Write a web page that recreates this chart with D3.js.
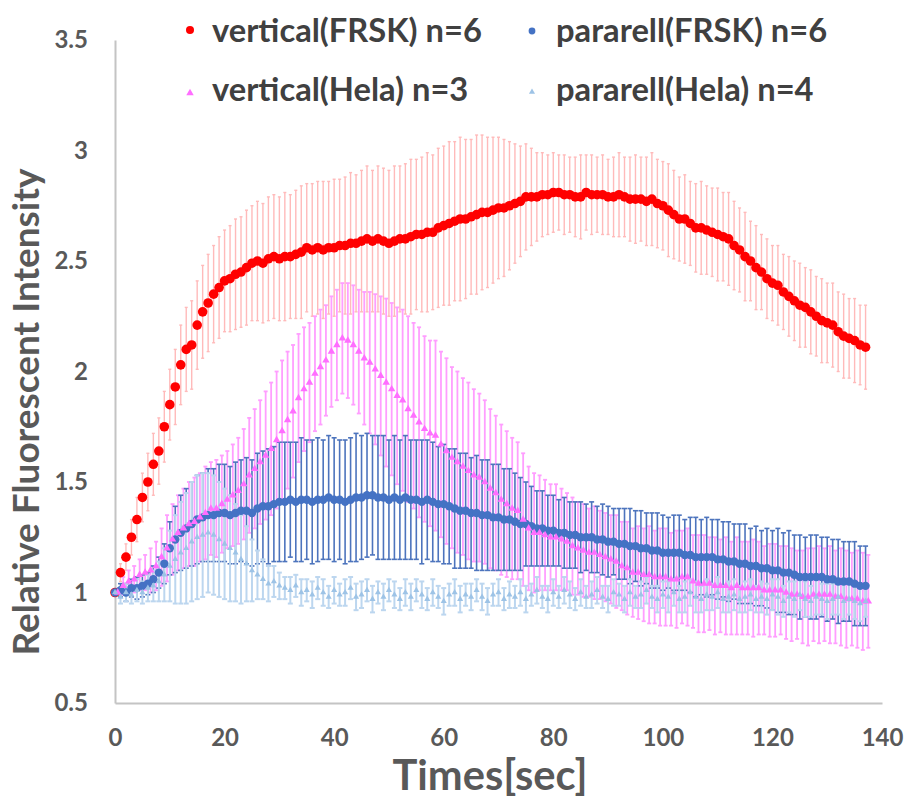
<!DOCTYPE html>
<html>
<head>
<meta charset="utf-8">
<script src="https://cdn.jsdelivr.net/npm/d3@7"></script>
<style>
  body { margin: 0; background: #fff; }
  svg { display: block; }
  text { font-family: Lato, "Open Sans", sans-serif; font-weight: 700; }
</style>
</head>
<body>
<svg id="chart" width="906" height="798"></svg>
<script>
// sampling times in seconds, one frame per second (vertical Hela frames fall half a second later)
const TIMES = d3.range(0, 138);
const TIMES_VERT_HELA = d3.range(0.5, 138.5);

const X_TICKS = [0, 20, 40, 60, 80, 100, 120, 140];
const Y_TICKS = [0.5, 1, 1.5, 2, 2.5, 3, 3.5];

const SERIES_NAMES = ["vertical(FRSK) n=6", "pararell(FRSK) n=6", "vertical(Hela) n=3", "pararell(Hela) n=4"];

const vertFrskMean = [
  1.00, 1.09, 1.16, 1.25, 1.33, 1.43, 1.50, 1.58, 1.64, 1.75,
  1.85, 1.93, 2.03, 2.10, 2.12, 2.21, 2.27, 2.31, 2.35, 2.38,
  2.41, 2.42, 2.44, 2.45, 2.47, 2.49, 2.50, 2.49, 2.51, 2.52,
  2.51, 2.52, 2.52, 2.53, 2.54, 2.56, 2.55, 2.56, 2.55, 2.56,
  2.56, 2.57, 2.57, 2.58, 2.58, 2.59, 2.60, 2.59, 2.60, 2.59,
  2.58, 2.59, 2.60, 2.60, 2.61, 2.62, 2.62, 2.63, 2.63, 2.65,
  2.66, 2.67, 2.68, 2.69, 2.69, 2.70, 2.71, 2.72, 2.72, 2.73,
  2.74, 2.74, 2.75, 2.76, 2.77, 2.79, 2.79, 2.79, 2.80, 2.80,
  2.81, 2.81, 2.80, 2.80, 2.79, 2.79, 2.81, 2.80, 2.80, 2.80,
  2.79, 2.79, 2.80, 2.79, 2.78, 2.78, 2.78, 2.77, 2.78, 2.76,
  2.75, 2.73, 2.71, 2.69, 2.69, 2.67, 2.65, 2.65, 2.64, 2.63,
  2.62, 2.61, 2.60, 2.57, 2.55, 2.52, 2.50, 2.47, 2.45, 2.42,
  2.40, 2.39, 2.36, 2.34, 2.32, 2.30, 2.29, 2.27, 2.25, 2.23,
  2.22, 2.21, 2.18, 2.16, 2.15, 2.14, 2.12, 2.11
];
const vertFrskErr = [
  0.00, 0.04, 0.06, 0.08, 0.10, 0.11, 0.13, 0.14, 0.15, 0.16,
  0.16, 0.17, 0.18, 0.19, 0.20, 0.20, 0.21, 0.22, 0.22, 0.23,
  0.23, 0.24, 0.25, 0.25, 0.26, 0.26, 0.27, 0.27, 0.28, 0.28,
  0.28, 0.29, 0.28, 0.29, 0.30, 0.29, 0.30, 0.30, 0.31, 0.30,
  0.31, 0.30, 0.31, 0.32, 0.31, 0.32, 0.33, 0.32, 0.33, 0.33,
  0.33, 0.34, 0.33, 0.34, 0.35, 0.34, 0.35, 0.36, 0.35, 0.36,
  0.36, 0.37, 0.36, 0.37, 0.36, 0.35, 0.36, 0.35, 0.34, 0.33,
  0.32, 0.31, 0.29, 0.27, 0.25, 0.24, 0.22, 0.20, 0.19, 0.18,
  0.18, 0.17, 0.18, 0.17, 0.18, 0.19, 0.17, 0.18, 0.17, 0.18,
  0.17, 0.18, 0.19, 0.18, 0.19, 0.20, 0.19, 0.20, 0.21, 0.20,
  0.20, 0.21, 0.20, 0.19, 0.20, 0.19, 0.20, 0.21, 0.20, 0.20,
  0.21, 0.20, 0.21, 0.20, 0.19, 0.20, 0.18, 0.19, 0.17, 0.18,
  0.17, 0.18, 0.17, 0.18, 0.18, 0.19, 0.18, 0.19, 0.18, 0.19,
  0.18, 0.19, 0.18, 0.19, 0.18, 0.19, 0.18, 0.19
];

const paraFrskMean = [
  1.00, 1.01, 1.00, 1.02, 1.02, 1.03, 1.04, 1.06, 1.09, 1.13,
  1.20, 1.24, 1.27, 1.29, 1.31, 1.33, 1.34, 1.35, 1.35, 1.36,
  1.36, 1.35, 1.36, 1.37, 1.37, 1.36, 1.38, 1.39, 1.39, 1.40,
  1.41, 1.41, 1.42, 1.41, 1.42, 1.42, 1.41, 1.42, 1.42, 1.43,
  1.42, 1.42, 1.41, 1.42, 1.43, 1.43, 1.44, 1.44, 1.43, 1.43,
  1.42, 1.43, 1.42, 1.43, 1.42, 1.42, 1.41, 1.42, 1.41, 1.40,
  1.40, 1.39, 1.38, 1.37, 1.37, 1.36, 1.36, 1.35, 1.35, 1.34,
  1.34, 1.33, 1.33, 1.32, 1.31, 1.31, 1.30, 1.29, 1.29, 1.28,
  1.28, 1.27, 1.27, 1.26, 1.26, 1.25, 1.25, 1.25, 1.24, 1.24,
  1.23, 1.23, 1.22, 1.22, 1.21, 1.21, 1.20, 1.20, 1.19, 1.19,
  1.18, 1.18, 1.18, 1.18, 1.17, 1.17, 1.16, 1.16, 1.16, 1.16,
  1.15, 1.15, 1.14, 1.14, 1.13, 1.13, 1.12, 1.12, 1.11, 1.11,
  1.10, 1.10, 1.09, 1.09, 1.08, 1.07, 1.07, 1.07, 1.07, 1.07,
  1.06, 1.06, 1.05, 1.05, 1.05, 1.04, 1.03, 1.03
];
const paraFrskErr = [
  0.00, 0.03, 0.04, 0.04, 0.05, 0.05, 0.05, 0.06, 0.07, 0.09,
  0.12, 0.15, 0.17, 0.18, 0.19, 0.20, 0.20, 0.21, 0.21, 0.22,
  0.22, 0.22, 0.23, 0.23, 0.24, 0.24, 0.25, 0.25, 0.26, 0.26,
  0.27, 0.27, 0.26, 0.27, 0.28, 0.27, 0.28, 0.28, 0.27, 0.28,
  0.28, 0.27, 0.28, 0.28, 0.29, 0.28, 0.28, 0.27, 0.28, 0.28,
  0.27, 0.28, 0.27, 0.28, 0.27, 0.27, 0.28, 0.27, 0.27, 0.26,
  0.27, 0.26, 0.27, 0.26, 0.26, 0.25, 0.26, 0.25, 0.25, 0.24,
  0.24, 0.23, 0.23, 0.22, 0.21, 0.19, 0.18, 0.17, 0.17, 0.16,
  0.16, 0.15, 0.16, 0.15, 0.15, 0.16, 0.15, 0.16, 0.15, 0.16,
  0.16, 0.15, 0.16, 0.16, 0.17, 0.16, 0.17, 0.16, 0.17, 0.17,
  0.17, 0.16, 0.17, 0.17, 0.16, 0.17, 0.18, 0.17, 0.18, 0.17,
  0.18, 0.17, 0.18, 0.17, 0.18, 0.18, 0.17, 0.18, 0.17, 0.18,
  0.18, 0.19, 0.18, 0.19, 0.18, 0.19, 0.18, 0.19, 0.19, 0.18,
  0.19, 0.18, 0.19, 0.18, 0.18, 0.19, 0.18, 0.18
];

const vertHelaMean = [
  1.00, 1.03, 1.05, 1.06, 1.08, 1.09, 1.10, 1.12, 1.16, 1.20,
  1.24, 1.27, 1.29, 1.31, 1.32, 1.34, 1.36, 1.38, 1.38, 1.40,
  1.42, 1.44, 1.46, 1.49, 1.53, 1.56, 1.59, 1.62, 1.65, 1.69,
  1.73, 1.78, 1.82, 1.88, 1.92, 1.95, 1.99, 2.02, 2.05, 2.09,
  2.12, 2.15, 2.14, 2.12, 2.09, 2.06, 2.04, 2.01, 1.98, 1.95,
  1.92, 1.89, 1.87, 1.83, 1.80, 1.77, 1.74, 1.72, 1.71, 1.67,
  1.64, 1.61, 1.59, 1.57, 1.55, 1.53, 1.52, 1.50, 1.47, 1.45,
  1.42, 1.40, 1.38, 1.37, 1.33, 1.29, 1.27, 1.27, 1.26, 1.25,
  1.25, 1.24, 1.23, 1.21, 1.20, 1.19, 1.18, 1.18, 1.17, 1.16,
  1.15, 1.14, 1.12, 1.11, 1.09, 1.09, 1.08, 1.08, 1.07, 1.07,
  1.07, 1.06, 1.06, 1.07, 1.07, 1.05, 1.04, 1.04, 1.04, 1.03,
  1.03, 1.03, 1.02, 1.03, 1.02, 1.02, 1.02, 1.02, 1.01, 1.01,
  1.01, 1.01, 1.00, 0.99, 0.99, 0.98, 0.98, 0.99, 0.99, 0.99,
  0.99, 0.98, 0.98, 0.97, 0.97, 0.97, 0.96, 0.96
];
const vertHelaErr = [
  0.00, 0.04, 0.05, 0.06, 0.07, 0.08, 0.10, 0.11, 0.13, 0.15,
  0.16, 0.17, 0.18, 0.19, 0.20, 0.20, 0.21, 0.21, 0.22, 0.22,
  0.22, 0.23, 0.24, 0.25, 0.26, 0.27, 0.28, 0.29, 0.30, 0.31,
  0.32, 0.31, 0.30, 0.29, 0.28, 0.27, 0.26, 0.26, 0.25, 0.25,
  0.25, 0.25, 0.26, 0.27, 0.28, 0.30, 0.32, 0.34, 0.36, 0.38,
  0.39, 0.40, 0.41, 0.42, 0.42, 0.43, 0.42, 0.42, 0.43, 0.42,
  0.42, 0.41, 0.41, 0.40, 0.40, 0.39, 0.38, 0.37, 0.36, 0.35,
  0.34, 0.33, 0.32, 0.31, 0.30, 0.28, 0.27, 0.26, 0.25, 0.24,
  0.24, 0.23, 0.22, 0.22, 0.21, 0.21, 0.20, 0.21, 0.20, 0.20,
  0.20, 0.21, 0.20, 0.21, 0.20, 0.21, 0.21, 0.22, 0.21, 0.22,
  0.22, 0.21, 0.22, 0.21, 0.22, 0.21, 0.22, 0.22, 0.21, 0.22,
  0.21, 0.22, 0.21, 0.22, 0.21, 0.21, 0.22, 0.21, 0.20, 0.21,
  0.21, 0.20, 0.21, 0.21, 0.20, 0.21, 0.22, 0.21, 0.22, 0.21,
  0.22, 0.21, 0.22, 0.22, 0.21, 0.22, 0.22, 0.21
];

const paraHelaMean = [
  1.00, 0.98, 1.00, 0.99, 1.01, 1.00, 1.02, 1.03, 1.05, 1.08,
  1.12, 1.15, 1.18, 1.20, 1.23, 1.25, 1.26, 1.27, 1.26, 1.24,
  1.22, 1.20, 1.18, 1.15, 1.13, 1.10, 1.08, 1.06, 1.04, 1.05,
  1.03, 1.02, 1.01, 1.03, 1.00, 1.01, 0.99, 1.02, 1.00, 0.98,
  1.01, 0.99, 1.00, 1.02, 0.98, 0.99, 1.01, 0.97, 1.00, 0.98,
  1.01, 0.99, 0.97, 1.00, 0.98, 1.01, 0.99, 0.97, 1.00, 0.98,
  0.96, 0.99, 1.00, 0.97, 0.99, 0.98, 1.01, 0.98, 0.96, 0.99,
  1.00, 0.97, 0.99, 0.98, 1.00, 0.97, 0.99, 1.01, 0.98, 0.97,
  1.00, 0.98, 1.01, 0.99, 0.97, 1.00, 0.98, 0.99, 1.01, 0.98,
  0.97, 1.00, 0.99, 0.97, 1.00, 0.98, 0.99, 1.01, 0.98, 0.97,
  0.99, 0.98, 1.00, 0.97, 0.98, 1.00, 0.98, 0.97, 0.99, 0.98,
  1.00, 0.97, 0.98, 0.99, 0.97, 0.98, 0.99, 0.97, 0.98, 0.97,
  0.99, 0.98, 0.96, 0.98, 0.97, 0.99, 0.97, 0.96, 0.98, 0.97,
  0.96, 0.97, 0.98, 0.96, 0.97, 0.96, 0.95, 0.96
];
const paraHelaErr = [
  0.00, 0.03, 0.04, 0.04, 0.05, 0.05, 0.06, 0.07, 0.09, 0.12,
  0.16, 0.20, 0.23, 0.25, 0.27, 0.28, 0.28, 0.27, 0.27, 0.26,
  0.25, 0.24, 0.22, 0.20, 0.17, 0.14, 0.11, 0.09, 0.08, 0.07,
  0.06, 0.05, 0.06, 0.05, 0.06, 0.05, 0.06, 0.05, 0.06, 0.05,
  0.06, 0.05, 0.06, 0.05, 0.06, 0.06, 0.05, 0.06, 0.05, 0.06,
  0.05, 0.06, 0.05, 0.06, 0.06, 0.05, 0.06, 0.05, 0.06, 0.05,
  0.06, 0.05, 0.06, 0.06, 0.05, 0.06, 0.05, 0.06, 0.06, 0.05,
  0.06, 0.05, 0.06, 0.05, 0.06, 0.06, 0.05, 0.06, 0.05, 0.06,
  0.06, 0.05, 0.06, 0.06, 0.05, 0.06, 0.05, 0.06, 0.06, 0.05,
  0.06, 0.06, 0.05, 0.06, 0.06, 0.05, 0.06, 0.06, 0.05, 0.06,
  0.06, 0.07, 0.06, 0.06, 0.07, 0.06, 0.07, 0.06, 0.07, 0.06,
  0.07, 0.06, 0.07, 0.07, 0.06, 0.07, 0.07, 0.06, 0.07, 0.07,
  0.07, 0.08, 0.07, 0.07, 0.08, 0.07, 0.08, 0.07, 0.08, 0.07,
  0.08, 0.07, 0.08, 0.08, 0.07, 0.08, 0.08, 0.07
];

const SERIES = [
  { name: SERIES_NAMES[0], times: TIMES, mean: vertFrskMean, err: vertFrskErr, color: "#ff0000", barColor: "#ffbaba", barWidth: 1.4, cap: 3, shape: "circle", size: 4.8 },
  { name: SERIES_NAMES[1], times: TIMES, mean: paraFrskMean, err: paraFrskErr, color: "#4472c4", barColor: "#4d74bd", barWidth: 1.6, cap: 5, shape: "circle", size: 4.2 },
  { name: SERIES_NAMES[2], times: TIMES_VERT_HELA, mean: vertHelaMean, err: vertHelaErr, color: "#ff6eff", barColor: "#ff9eff", barWidth: 1.8, cap: 4, shape: "triangle", size: 24 },
  { name: SERIES_NAMES[3], times: TIMES, mean: paraHelaMean, err: paraHelaErr, color: "#9dc3e6", barColor: "#bcd6ef", barWidth: 2, cap: 5, shape: "triangle", size: 16 },
];

const svg = d3.select("#chart");

const x = d3.scaleLinear().domain([0, 140]).range([115, 882]);
const y = d3.scaleLinear().domain([0.5, 3.5]).range([703, 40]);

// Axes
const yAxis = svg.append("g")
  .attr("transform", "translate(115,0)")
  .call(d3.axisLeft(y).tickValues(Y_TICKS).tickSize(0).tickSizeOuter(0).tickPadding(27).tickFormat(d3.format("")));
const xAxis = svg.append("g")
  .attr("transform", "translate(0,703)")
  .call(d3.axisBottom(x).tickValues(X_TICKS).tickSize(0).tickSizeOuter(0).tickPadding(26));

[xAxis, yAxis].forEach((ax) => {
  ax.select(".domain").attr("stroke", "#c4c4c4").attr("stroke-width", 2);
  ax.selectAll("text")
    .attr("fill", "#595959")
    .style("font-size", "24px")
    .style("font-family", "Lato, sans-serif")
    .style("font-weight", 700);
});

// Error bars: red, pink, blue, light blue
const barOrder = [0, 2, 1, 3];
barOrder.forEach((si) => {
  const s = SERIES[si];
  const g = svg.append("g").attr("stroke", s.barColor).attr("stroke-width", s.barWidth);
  s.times.forEach((t, i) => {
    if (s.err[i] <= 0) return;
    const px = x(t);
    const top = y(s.mean[i] + s.err[i]);
    const bot = y(s.mean[i] - s.err[i]);
    g.append("line").attr("x1", px).attr("x2", px).attr("y1", top).attr("y2", bot);
    g.append("line").attr("x1", px - s.cap / 2).attr("x2", px + s.cap / 2).attr("y1", top).attr("y2", top);
    g.append("line").attr("x1", px - s.cap / 2).attr("x2", px + s.cap / 2).attr("y1", bot).attr("y2", bot);
  });
});

// Markers
function drawMarkers(g, s, pts) {
  if (s.shape === "circle") {
    g.selectAll("circle")
      .data(pts)
      .join("circle")
      .attr("cx", (d) => d[0])
      .attr("cy", (d) => d[1])
      .attr("r", s.size)
      .attr("fill", s.color);
  } else {
    g.selectAll("path")
      .data(pts)
      .join("path")
      .attr("d", d3.symbol(d3.symbolTriangle).size(s.size))
      .attr("transform", (d) => `translate(${d[0]},${d[1]})`)
      .attr("fill", s.color);
  }
}

[0, 1, 2, 3].forEach((si) => {
  const s = SERIES[si];
  const pts = s.times.map((t, i) => [x(t), y(s.mean[i])]);
  drawMarkers(svg.append("g"), s, pts);
});

// Fit a text element to a target width by adjusting font size
function fitText(sel, width) {
  const w = sel.node().getComputedTextLength();
  const fs = parseFloat(sel.style("font-size"));
  sel.style("font-size", (fs * width / w).toFixed(2) + "px");
}

// Axis titles
const yTitle = svg.append("text")
  .attr("transform", "translate(39,412) rotate(-90)")
  .attr("text-anchor", "middle")
  .attr("fill", "#595959")
  .style("font-size", "30px")
  .text("Relative Fluorescent Intensity");
fitText(yTitle, 487);

const xTitle = svg.append("text")
  .attr("x", 490)
  .attr("y", 790)
  .attr("text-anchor", "middle")
  .attr("fill", "#595959")
  .style("font-size", "30px")
  .text("Times[sec]");
fitText(xTitle, 195);

// Legend
const legendPos = [
  { mx: 190, my: 30, tx: 212, ty: 42 },
  { mx: 532, my: 31, tx: 556, ty: 42 },
  { mx: 190, my: 93, tx: 212, ty: 101 },
  { mx: 532, my: 92, tx: 556, ty: 101 },
];

const legend = svg.append("g");
let legendSize = null;
SERIES.forEach((s, i) => {
  const p = legendPos[i];
  const mk = legend.append("g");
  if (s.shape === "circle") {
    mk.append("circle").attr("cx", p.mx).attr("cy", p.my).attr("r", s.size - 0.8).attr("fill", s.color);
  } else {
    mk.append("path")
      .attr("d", d3.symbol(d3.symbolTriangle).size(s.size))
      .attr("transform", `translate(${p.mx},${p.my})`)
      .attr("fill", s.color);
  }
  const t = legend.append("text")
    .attr("x", p.tx)
    .attr("y", p.ty)
    .attr("fill", "#404040")
    .style("font-size", "24px")
    .text(s.name);
  if (i === 0) {
    fitText(t, 270);
    legendSize = t.style("font-size");
  } else {
    t.style("font-size", legendSize);
  }
});
</script>
</body>
</html>
